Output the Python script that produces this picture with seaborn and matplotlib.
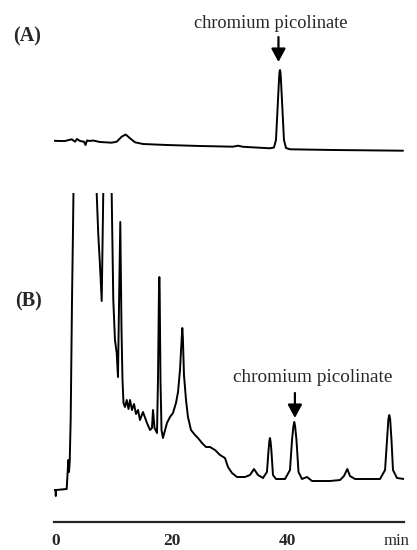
import matplotlib
matplotlib.use("Agg")
import matplotlib.pyplot as plt
import seaborn as sns

# chromatogram (A): standard, retention time (min) and detector response (a.u.)
time_a = [-0.71, 0.73, 1.59, 2.75, 3.32, 3.66, 4.18, 4.87, 5.13, 5.39, 5.91, 6.42,
          7.63, 9.65, 10.52, 11.38, 12.07, 12.82, 13.68, 15.06, 19.15, 24.90,
          30.60, 31.47, 32.33, 36.99, 37.68, 38.03, 38.29, 38.55, 38.64, 38.72,
          38.80, 38.89, 39.15, 39.41, 39.76, 40.45, 47.88, 59.97]
resp_a = [11.3, 11, 11, 12.7, 10.3, 13, 11, 10.3, 7, 11.5, 11, 11.5,
          10, 9.3, 10.3, 15.3, 17.5, 13.7, 9.7, 8, 7, 6,
          5.3, 6.3, 5.2, 3.7, 4.5, 12, 42, 72, 80, 82,
          80, 72, 42, 12, 4, 2.7, 2, 1.3]

# chromatogram (B): sample (large early peaks run off scale)
time_b = [-0.54, -0.05, 0.0, 0.05, 1.88, 2.02, 2.16, 2.28, 2.40, 2.57, 2.80, 2.97,
          3.14, 3.5, 6.7, 7.06, 7.34, 7.63, 7.93, 8.20, 8.6, 9.3, 9.65, 9.93,
          10.22, 10.52, 10.74, 10.88, 11.14, 11.35, 11.52, 11.69, 11.95, 12.25,
          12.56, 12.82, 13.16, 13.51, 13.85, 14.20, 14.54, 15.06, 15.75, 16.27,
          16.61, 16.79, 17.05, 17.48, 17.65, 17.82, 17.88, 17.94, 18.08, 18.26,
          18.51, 19.20, 19.72, 20.24, 20.76, 21.11, 21.45, 21.75, 21.85, 21.95,
          22.14, 22.49, 22.83, 23.35, 24.04, 24.56, 25.25, 25.94, 26.63, 27.50,
          28.36, 29.22, 29.74, 30.43, 31.30, 32.68, 33.54, 34.23, 34.92, 35.78,
          36.47, 36.75, 36.89, 36.99, 37.09, 37.23, 37.51, 38.03, 39.59, 40.45,
          40.80, 41.05, 41.19, 41.33, 41.57, 41.92, 42.52, 43.39, 44.25, 47.36,
          49.09, 49.78, 50.35, 50.81, 51.68, 56.00, 56.87, 57.21, 57.45, 57.60,
          57.75, 57.98, 58.24, 58.93, 60.14]
resp_b = [0, 0, -6, 0, 1, 15, 30, 18, 28, 70, 190, 260,
          340, 600, 600, 297, 255, 225, 189, 297, 600, 600, 297, 190,
          150, 137, 113, 170, 268, 160, 110, 87, 83, 90,
          81, 90, 80, 86, 76, 80, 70, 78, 67, 60,
          62, 80, 62, 57, 110, 200, 213, 200, 110, 60,
          52, 67, 73, 77, 87, 98, 120, 152, 162, 152,
          115, 90, 73, 60, 55, 52, 47, 43, 43, 40,
          35, 32, 23, 17, 13, 13, 15, 21, 15, 12,
          18, 40, 49, 52, 49, 40, 15, 11, 11, 20,
          50, 64, 68, 64, 50, 18, 11, 13, 9, 9,
          10, 14, 21, 14, 11, 11, 20, 50, 71, 75,
          71, 50, 20, 12, 11]

x_ticks = [0, 20, 40]
peak_label = "chromium picolinate"

sns.set_style("white")
plt.rcParams["font.family"] = ["Liberation Serif", "DejaVu Serif"]

fig = plt.figure(figsize=(4.17, 5.5), dpi=100)
ax_a = fig.add_axes([0.1295, 0.7091, 0.8393, 0.2])
ax_b = fig.add_axes([0.1295, 0.0509, 0.8393, 0.5982])

# top trace
sns.lineplot(x=time_a, y=resp_a, ax=ax_a, color="black", linewidth=1.4,
             estimator=None, sort=False)
ax_a.set_xlim(-0.31, 60.14)
ax_a.set_ylim(-8, 102)
ax_a.set_axis_off()

# bottom trace
sns.lineplot(x=time_b, y=resp_b, ax=ax_b, color="black", linewidth=1.4,
             estimator=None, sort=False)
ax_b.set_xlim(-0.31, 60.14)
ax_b.set_ylim(-32, 297)
sns.despine(ax=ax_b, left=True)
ax_b.spines["bottom"].set_linewidth(1.6)
ax_b.set_yticks([])
ax_b.set_xticks(x_ticks)
ax_b.set_xticklabels([str(t) for t in x_ticks], fontsize=12.5, fontweight="bold")
ax_b.tick_params(axis="x", direction="out", length=3, width=0.8, pad=5)
ax_b.set_xlabel("")
ax_b.set_ylabel("")

# peak annotations
arrow = dict(arrowstyle="-|>,head_length=0.8,head_width=0.43", color="black",
             lw=1.6, shrinkA=0, shrinkB=0, mutation_scale=10)
ax_a.annotate("", xy=(38.46, 90), xytext=(38.46, 115), arrowprops=arrow,
              annotation_clip=False)
ax_a.text(37.17, 124, peak_label, ha="center", va="baseline", fontsize=13.2)
ax_b.annotate("", xy=(41.3, 72), xytext=(41.3, 97), arrowprops=arrow,
              annotation_clip=False)
ax_b.text(44.3, 108, peak_label, ha="center", va="baseline", fontsize=13.9)

fig.text(0.066, 0.9336, "(A)", ha="center", va="center", fontsize=14.5,
         fontweight="bold")
fig.text(0.0683, 0.4515, "(B)", ha="center", va="center", fontsize=14.5,
         fontweight="bold")
fig.text(0.951, 0.0091, "min", ha="center", va="baseline", fontsize=12)

fig.savefig("out.png", dpi=100)
